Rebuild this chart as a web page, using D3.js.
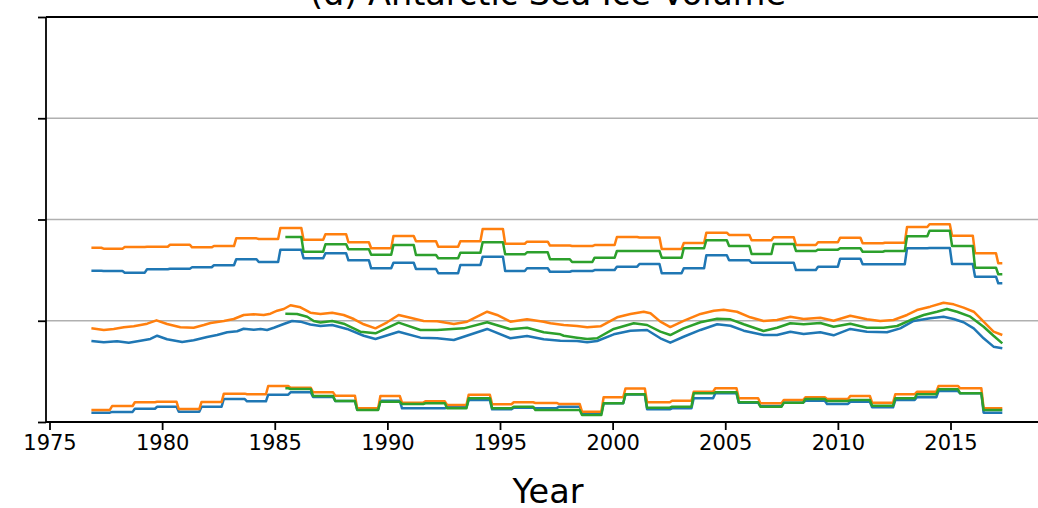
<!DOCTYPE html>
<html><head><meta charset="utf-8">
<script src="https://cdn.jsdelivr.net/npm/d3@7"></script>
<style>body{margin:0;background:#fff}svg{display:block}text{font-family:"DejaVu Sans",sans-serif}</style>
</head><body>
<svg id="c" width="1038" height="508"></svg>
<script>
const titleText = "(d) Antarctic Sea Ice Volume";
const xLabelText = "Year";
const xTicks = [1975, 1980, 1985, 1990, 1995, 2000, 2005, 2010, 2015];
const yTicks = [0, 10, 20, 30, 40];
const endYear = 2017.3;
const greenStartYear = 1985.47;

// upper group: annual step series
const topStepYears = [1976.86, 1977.4, 1978.34, 1979.33, 1980.35, 1981.33, 1982.3, 1983.29, 1984.29, 1985.25, 1986.28, 1987.25, 1988.27, 1989.28, 1990.27, 1991.27, 1992.26, 1993.24, 1994.23, 1995.23, 1996.2, 1997.22, 1998.2, 1999.2, 2000.19, 2001.19, 2002.18, 2003.16, 2004.16, 2005.17, 2006.17, 2007.15, 2008.14, 2009.12, 2010.1, 2011.1, 2012.09, 2013.07, 2014.07, 2015.07, 2016.09, 2017.12];
const topBlue = [14.94, 14.91, 14.75, 15.08, 15.14, 15.28, 15.48, 16.07, 15.80, 17.02, 16.17, 16.66, 15.97, 15.18, 15.73, 15.11, 14.69, 15.51, 16.33, 14.91, 15.18, 14.84, 14.91, 15.01, 15.34, 15.60, 14.69, 15.18, 16.46, 15.97, 15.73, 15.73, 15.01, 15.34, 16.13, 15.58, 15.58, 17.16, 17.19, 15.60, 14.35, 13.70];
const topOrange = [17.21, 17.12, 17.28, 17.31, 17.51, 17.25, 17.38, 18.14, 18.07, 19.16, 18.00, 18.54, 17.75, 17.16, 18.37, 17.85, 17.31, 17.85, 19.06, 17.61, 17.81, 17.43, 17.38, 17.48, 18.27, 18.22, 17.09, 17.68, 18.70, 18.47, 17.95, 18.25, 17.48, 17.75, 18.20, 17.65, 17.71, 19.26, 19.53, 18.40, 16.66, 15.67];
const topGreen = [null, null, null, null, null, null, null, null, null, 18.27, 16.82, 17.55, 17.06, 16.52, 17.48, 16.49, 16.17, 16.72, 17.75, 16.56, 16.76, 16.08, 15.80, 16.23, 16.89, 16.89, 16.23, 17.16, 17.95, 17.38, 16.59, 17.58, 16.89, 17.02, 17.16, 16.82, 16.89, 18.34, 18.89, 17.38, 15.24, 14.59];

// lower group: annual step series
const bottomStepYears = [1976.86, 1977.78, 1978.79, 1979.78, 1980.74, 1981.75, 1982.74, 1983.77, 1984.71, 1985.7, 1986.7, 1987.69, 1988.66, 1989.69, 1990.65, 1991.69, 1992.65, 1993.61, 1994.65, 1995.61, 1996.57, 1997.61, 1998.64, 1999.6, 2000.57, 2001.53, 2002.64, 2003.6, 2004.56, 2005.6, 2006.56, 2007.6, 2008.56, 2009.52, 2010.55, 2011.52, 2012.55, 2013.51, 2014.47, 2015.43, 2016.47];
const bottomBlue = [0.92, 1.0, 1.31, 1.51, 1.02, 1.51, 2.27, 2.04, 2.70, 2.93, 2.47, 2.07, 1.23, 2.10, 1.35, 1.35, 1.45, 2.17, 1.25, 1.41, 1.35, 1.51, 0.86, 1.85, 2.72, 1.25, 1.35, 2.34, 2.83, 1.91, 1.58, 1.91, 2.10, 1.78, 2.00, 1.45, 2.17, 2.44, 3.06, 2.83, 0.92];
const bottomOrange = [1.19, 1.58, 1.95, 2.00, 1.28, 1.98, 2.80, 2.74, 3.56, 3.39, 2.93, 2.60, 1.35, 2.57, 1.91, 2.04, 1.68, 2.70, 1.75, 1.95, 1.88, 1.78, 1.02, 2.44, 3.31, 1.95, 2.10, 2.99, 3.33, 2.34, 1.85, 2.17, 2.44, 2.27, 2.57, 1.91, 2.74, 2.99, 3.56, 3.33, 1.35];
const bottomGreen = [null, null, null, null, null, null, null, null, 3.33, 3.26, 2.57, 2.07, 1.19, 2.00, 1.78, 1.85, 1.35, 2.34, 1.35, 1.51, 1.19, 1.19, 0.69, 1.85, 2.75, 1.41, 1.51, 2.83, 2.93, 1.95, 1.51, 1.91, 2.27, 2.07, 2.17, 1.61, 2.34, 2.74, 3.23, 2.83, 1.19];

// middle group: smooth series [year, value]
const midBlue = [[1976.86,8.00],[1977.41,7.87],[1978.00,7.97],[1978.52,7.83],[1979.04,8.03],[1979.48,8.20],[1979.78,8.52],[1980.22,8.17],[1980.89,7.90],[1981.40,8.07],[1982.00,8.40],[1982.44,8.59],[1982.89,8.86],[1983.33,8.96],[1983.62,9.21],[1984.07,9.12],[1984.37,9.19],[1984.66,9.09],[1984.96,9.31],[1985.40,9.68],[1985.77,9.98],[1986.14,9.91],[1986.58,9.63],[1987.03,9.48],[1987.55,9.58],[1988.21,9.19],[1988.95,8.52],[1989.47,8.20],[1990.50,8.92],[1991.47,8.33],[1992.21,8.27],[1992.95,8.10],[1994.43,9.19],[1995.46,8.27],[1996.20,8.49],[1996.94,8.17],[1997.68,8.03],[1998.42,8.00],[1998.87,7.87],[1999.31,8.00],[2000.05,8.66],[2000.79,9.02],[2001.53,9.09],[2002.12,8.27],[2002.56,7.83],[2003.15,8.42],[2003.90,9.09],[2004.64,9.65],[2005.23,9.51],[2005.82,9.02],[2006.70,8.59],[2007.30,8.59],[2007.89,8.92],[2008.48,8.69],[2009.22,8.86],[2009.81,8.56],[2010.55,9.19],[2011.29,8.92],[2012.18,8.86],[2012.77,9.25],[2013.36,9.98],[2014.10,10.24],[2014.69,10.40],[2015.14,10.17],[2015.58,9.85],[2016.03,9.25],[2016.47,8.27],[2016.91,7.44],[2017.30,7.28]];
const midOrange = [[1976.86,9.25],[1977.41,9.09],[1977.85,9.19],[1978.30,9.35],[1978.74,9.45],[1979.34,9.71],[1979.75,10.04],[1980.22,9.68],[1980.81,9.35],[1981.40,9.31],[1981.85,9.58],[1982.15,9.78],[1982.74,9.98],[1983.18,10.17],[1983.62,10.57],[1984.07,10.64],[1984.51,10.57],[1984.81,10.70],[1985.11,10.99],[1985.40,11.16],[1985.70,11.53],[1986.14,11.33],[1986.58,10.80],[1987.03,10.67],[1987.55,10.80],[1988.06,10.57],[1988.51,10.17],[1988.95,9.65],[1989.47,9.25],[1989.99,9.85],[1990.50,10.57],[1991.02,10.30],[1991.61,9.98],[1992.21,9.95],[1992.95,9.68],[1993.54,9.91],[1994.43,10.89],[1994.87,10.57],[1995.46,9.91],[1996.20,10.14],[1996.94,9.91],[1997.24,9.75],[1997.83,9.58],[1998.42,9.48],[1998.87,9.35],[1999.46,9.45],[2000.20,10.34],[2000.79,10.67],[2001.38,10.89],[2001.68,10.74],[2002.12,9.91],[2002.56,9.38],[2003.15,9.98],[2003.90,10.67],[2004.49,10.99],[2004.93,11.09],[2005.52,10.89],[2006.11,10.34],[2006.70,9.98],[2007.30,10.07],[2007.89,10.40],[2008.48,10.17],[2009.22,10.30],[2009.81,10.00],[2010.55,10.50],[2011.29,10.14],[2011.88,9.98],[2012.47,10.07],[2013.07,10.57],[2013.51,11.06],[2014.10,11.39],[2014.69,11.78],[2015.14,11.62],[2015.58,11.29],[2016.03,10.89],[2016.47,9.91],[2016.91,8.92],[2017.30,8.59]];
const midGreen = [[1985.47,10.70],[1985.99,10.67],[1986.44,10.40],[1986.73,9.98],[1987.03,9.83],[1987.55,9.98],[1988.06,9.71],[1988.80,8.92],[1989.47,8.76],[1990.50,9.81],[1991.47,9.09],[1992.21,9.09],[1993.39,9.25],[1994.43,9.85],[1995.46,9.16],[1996.20,9.31],[1996.94,8.86],[1997.68,8.66],[1997.83,8.52],[1998.42,8.33],[1998.87,8.20],[1999.31,8.27],[2000.05,9.19],[2000.94,9.75],[2001.53,9.58],[2002.12,8.92],[2002.56,8.59],[2003.15,9.25],[2003.90,9.85],[2004.64,10.20],[2005.23,10.14],[2005.82,9.65],[2006.70,8.99],[2007.30,9.31],[2007.89,9.75],[2008.48,9.65],[2009.22,9.78],[2009.81,9.41],[2010.55,9.71],[2011.29,9.31],[2012.03,9.31],[2012.63,9.48],[2013.22,10.07],[2013.81,10.57],[2014.40,10.89],[2014.84,11.16],[2015.29,10.89],[2015.88,10.40],[2016.47,9.41],[2016.91,8.52],[2017.30,7.77]];

const colors = {blue: "#1f77b4", orange: "#ff7f0e", green: "#2ca02c"};

const svg = d3.select("#c");
const plotLeft = 46, plotRight = 1050, plotTop = 17, plotBottom = 422;
const x = d3.scaleLinear().domain([1975, 2015]).range([49.5, 950.5]);
const y = d3.scaleLinear().domain([0, 40]).range([plotBottom, plotTop]);

// grid
svg.append("g").selectAll("line").data(yTicks.filter(d => d > 0 && d < 40)).join("line")
  .attr("x1", plotLeft).attr("x2", plotRight).attr("y1", d => y(d)).attr("y2", d => y(d))
  .attr("stroke", "#b0b0b0").attr("stroke-width", 1.6);

const RAMP = 0.1;
function stepPoints(starts, vals, end, firstYear) {
  const pts = [];
  for (let k = 0; k < starts.length; k++) {
    const v = vals[k];
    if (v == null) continue;
    let a = starts[k];
    if (firstYear != null && a < firstYear) a = firstYear;
    const b = k + 1 < starts.length ? starts[k + 1] - RAMP : end;
    pts.push([a, v], [b, v]);
  }
  return pts;
}
const line = d3.line().x(d => x(d[0])).y(d => y(d[1]));

const series = [
  {pts: stepPoints(topStepYears, topBlue, endYear), c: colors.blue},
  {pts: midBlue, c: colors.blue},
  {pts: stepPoints(bottomStepYears, bottomBlue, endYear), c: colors.blue},
  {pts: stepPoints(topStepYears, topOrange, endYear), c: colors.orange},
  {pts: midOrange, c: colors.orange},
  {pts: stepPoints(bottomStepYears, bottomOrange, endYear), c: colors.orange},
  {pts: stepPoints(topStepYears, topGreen, endYear, greenStartYear), c: colors.green},
  {pts: midGreen, c: colors.green},
  {pts: stepPoints(bottomStepYears, bottomGreen, endYear, greenStartYear), c: colors.green}
];
svg.append("g").selectAll("path").data(series).join("path")
  .attr("d", d => line(d.pts)).attr("fill", "none")
  .attr("stroke", d => d.c).attr("stroke-width", 2.5).attr("stroke-linejoin", "round");

// x axis
const xAxis = svg.append("g").attr("transform", `translate(0,${plotBottom})`)
  .call(d3.axisBottom(x).tickValues(xTicks).tickFormat(d3.format("d")).tickSize(8).tickPadding(5));
xAxis.select(".domain").remove();
xAxis.selectAll(".tick line").attr("stroke", "#000").attr("stroke-width", 1.8);
xAxis.selectAll(".tick text").attr("font-size", 21).attr("font-family", "DejaVu Sans").attr("fill", "#000");

// y axis (no labels)
const yAxis = svg.append("g").attr("transform", `translate(${plotLeft},0)`)
  .call(d3.axisLeft(y).tickValues(yTicks).tickFormat("").tickSize(8));
yAxis.select(".domain").remove();
yAxis.selectAll(".tick line").attr("stroke", "#000").attr("stroke-width", 1.8);

// spines
svg.append("line").attr("x1", plotLeft).attr("x2", plotLeft).attr("y1", plotTop).attr("y2", plotBottom)
  .attr("stroke", "#000").attr("stroke-width", 1.8);
svg.append("line").attr("x1", plotLeft).attr("x2", plotRight).attr("y1", plotBottom).attr("y2", plotBottom)
  .attr("stroke", "#000").attr("stroke-width", 1.8);
svg.append("line").attr("x1", plotLeft).attr("x2", plotRight).attr("y1", plotTop).attr("y2", plotTop)
  .attr("stroke", "#000").attr("stroke-width", 1.8);

// labels
svg.append("text").attr("x", 548).attr("y", 5).attr("text-anchor", "middle")
  .attr("font-size", 33.5).text(titleText);
svg.append("text").attr("x", 548).attr("y", 503).attr("text-anchor", "middle")
  .attr("font-size", 33.5).text(xLabelText);
</script>
</body></html>
